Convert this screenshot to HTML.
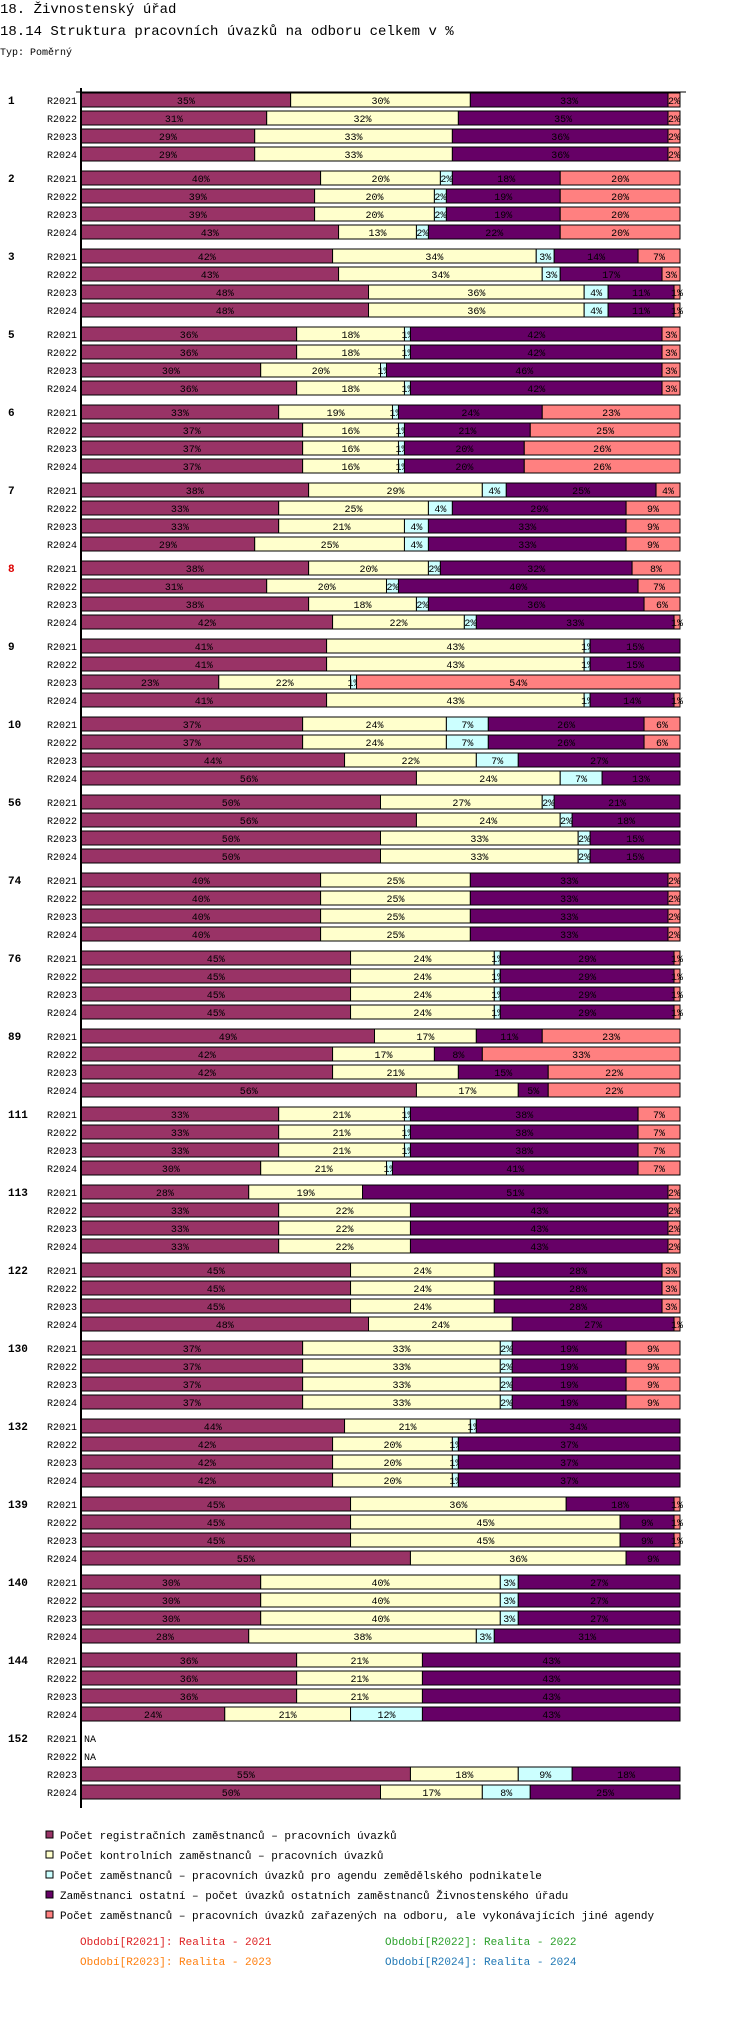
<!DOCTYPE html>
<html><head><meta charset="utf-8">
<style>
body{margin:0;background:#fff;width:750px;height:2018px;overflow:hidden;font-family:"Liberation Mono","DejaVu Sans Mono",monospace;}
svg{position:absolute;left:0;top:0}
</style></head>
<body>
<svg id="chart" width="750" height="2018" xmlns="http://www.w3.org/2000/svg" font-family="Liberation Mono, DejaVu Sans Mono, monospace">
<text x="0" y="13" font-size="14">18. Živnostenský úřad</text>
<text x="0" y="35" font-size="14">18.14 Struktura pracovních úvazků na odboru celkem v %</text>
<text x="0" y="55" font-size="10">Typ: Poměrný</text>
<g id="bars"></g>
<line x1="81" y1="88" x2="81" y2="1808" stroke="#000" stroke-width="2"/>
<line x1="76" y1="92" x2="686" y2="92" stroke="#000" stroke-width="1"/>
<g id="legend"></g>
</svg>
<script>
const groups=["1","2","3","5","6","7","8","9","10","56","74","76","89","111","113","122","130","132","139","140","144","152"];
const years=["R2021","R2022","R2023","R2024"];
const seriesNames=["Počet registračních zaměstnanců – pracovních úvazků","Počet kontrolních zaměstnanců – pracovních úvazků","Počet zaměstnanců – pracovních úvazků pro agendu zemědělského podnikatele","Zaměstnanci ostatní – počet úvazků ostatních zaměstnanců Živnostenského úřadu","Počet zaměstnanců – pracovních úvazků zařazených na odboru, ale vykonávajících jiné agendy"];
const colors=["#993366","#ffffcc","#ccffff","#660066","#ff8080"];
const values=[
[[35,30,0,33,2],[31,32,0,35,2],[29,33,0,36,2],[29,33,0,36,2]],
[[40,20,2,18,20],[39,20,2,19,20],[39,20,2,19,20],[43,13,2,22,20]],
[[42,34,3,14,7],[43,34,3,17,3],[48,36,4,11,1],[48,36,4,11,1]],
[[36,18,1,42,3],[36,18,1,42,3],[30,20,1,46,3],[36,18,1,42,3]],
[[33,19,1,24,23],[37,16,1,21,25],[37,16,1,20,26],[37,16,1,20,26]],
[[38,29,4,25,4],[33,25,4,29,9],[33,21,4,33,9],[29,25,4,33,9]],
[[38,20,2,32,8],[31,20,2,40,7],[38,18,2,36,6],[42,22,2,33,1]],
[[41,43,1,15,0],[41,43,1,15,0],[23,22,1,0,54],[41,43,1,14,1]],
[[37,24,7,26,6],[37,24,7,26,6],[44,22,7,27,0],[56,24,7,13,0]],
[[50,27,2,21,0],[56,24,2,18,0],[50,33,2,15,0],[50,33,2,15,0]],
[[40,25,0,33,2],[40,25,0,33,2],[40,25,0,33,2],[40,25,0,33,2]],
[[45,24,1,29,1],[45,24,1,29,1],[45,24,1,29,1],[45,24,1,29,1]],
[[49,17,0,11,23],[42,17,0,8,33],[42,21,0,15,22],[56,17,0,5,22]],
[[33,21,1,38,7],[33,21,1,38,7],[33,21,1,38,7],[30,21,1,41,7]],
[[28,19,0,51,2],[33,22,0,43,2],[33,22,0,43,2],[33,22,0,43,2]],
[[45,24,0,28,3],[45,24,0,28,3],[45,24,0,28,3],[48,24,0,27,1]],
[[37,33,2,19,9],[37,33,2,19,9],[37,33,2,19,9],[37,33,2,19,9]],
[[44,21,1,34,0],[42,20,1,37,0],[42,20,1,37,0],[42,20,1,37,0]],
[[45,36,0,18,1],[45,45,0,9,1],[45,45,0,9,1],[55,36,0,9,0]],
[[30,40,3,27,0],[30,40,3,27,0],[30,40,3,27,0],[28,38,3,31,0]],
[[36,21,0,43,0],[36,21,0,43,0],[36,21,0,43,0],[24,21,12,43,0]],
[null,null,[55,18,9,18,0],[50,17,8,25,0]]
];
const periodLabels=[["Období[R2021]: Realita - 2021","#dd2222"],["Období[R2022]: Realita - 2022","#2ca02c"],["Období[R2023]: Realita - 2023","#ff7f0e"],["Období[R2024]: Realita - 2024","#1f77b4"]];
const NS="http://www.w3.org/2000/svg";
const X0=81,W=599,TOP=93,BAR=14,PITCH=18,GPITCH=78;
function xScale(cum,total){return X0+cum/total*W;}
function yBar(g,y){return TOP+g*GPITCH+y*PITCH;}
function mk(tag,attrs,parent){const e=document.createElementNS(NS,tag);for(const k in attrs)e.setAttribute(k,attrs[k]);parent.appendChild(e);return e;}
const bars=document.getElementById('bars');
groups.forEach((gname,g)=>{
  const gl=mk('text',{x:8,y:yBar(g,0)+BAR/2+4,'font-size':11,'font-weight':'bold',fill:gname==="8"?"#dd0000":"#000"},bars);
  
  
  gl.textContent=gname;
  years.forEach((yr,y)=>{
    const yy=yBar(g,y);
    const yl=mk('text',{x:77,y:yy+BAR/2+4,'font-size':10,'text-anchor':'end'},bars);
    
    
    yl.textContent=yr;
    const row=values[g][y];
    if(!row){
      const na=mk('text',{x:84,y:yy+BAR/2+4,'font-size':10},bars);
      
      
      na.textContent="NA";return;
    }
    const total=row.reduce((a,b)=>a+b,0);
    let cum=0;
    row.forEach((v,s)=>{
      if(v<=0)return;
      const x1=xScale(cum,total),x2=xScale(cum+v,total);cum+=v;
      const r=mk('rect',{x:x1,y:yy,width:x2-x1,height:BAR,fill:colors[s],stroke:'#000','stroke-width':1},bars);
      
      
      const t=mk('text',{x:(x1+x2)/2,y:yy+BAR/2+4,'font-size':10,'text-anchor':'middle',fill:'#000'},bars);
      
      
      t.textContent=v+'%';
    });
  });
});
const leg=document.getElementById('legend');
seriesNames.forEach((n,i)=>{
  const sq=mk('rect',{x:46,y:1831+i*20,width:7,height:7,fill:colors[i],stroke:'#000','stroke-width':1},leg);
  
  
  const t=mk('text',{x:60,y:1839+i*20,'font-size':11},leg);
  
  
  t.textContent=n;
});
periodLabels.forEach((p,i)=>{
  const t=mk('text',{x:i%2?385:80,y:1945+Math.floor(i/2)*20,'font-size':11,fill:p[1]},leg);
  
  
  t.textContent=p[0];
});
</script>
</body></html>
